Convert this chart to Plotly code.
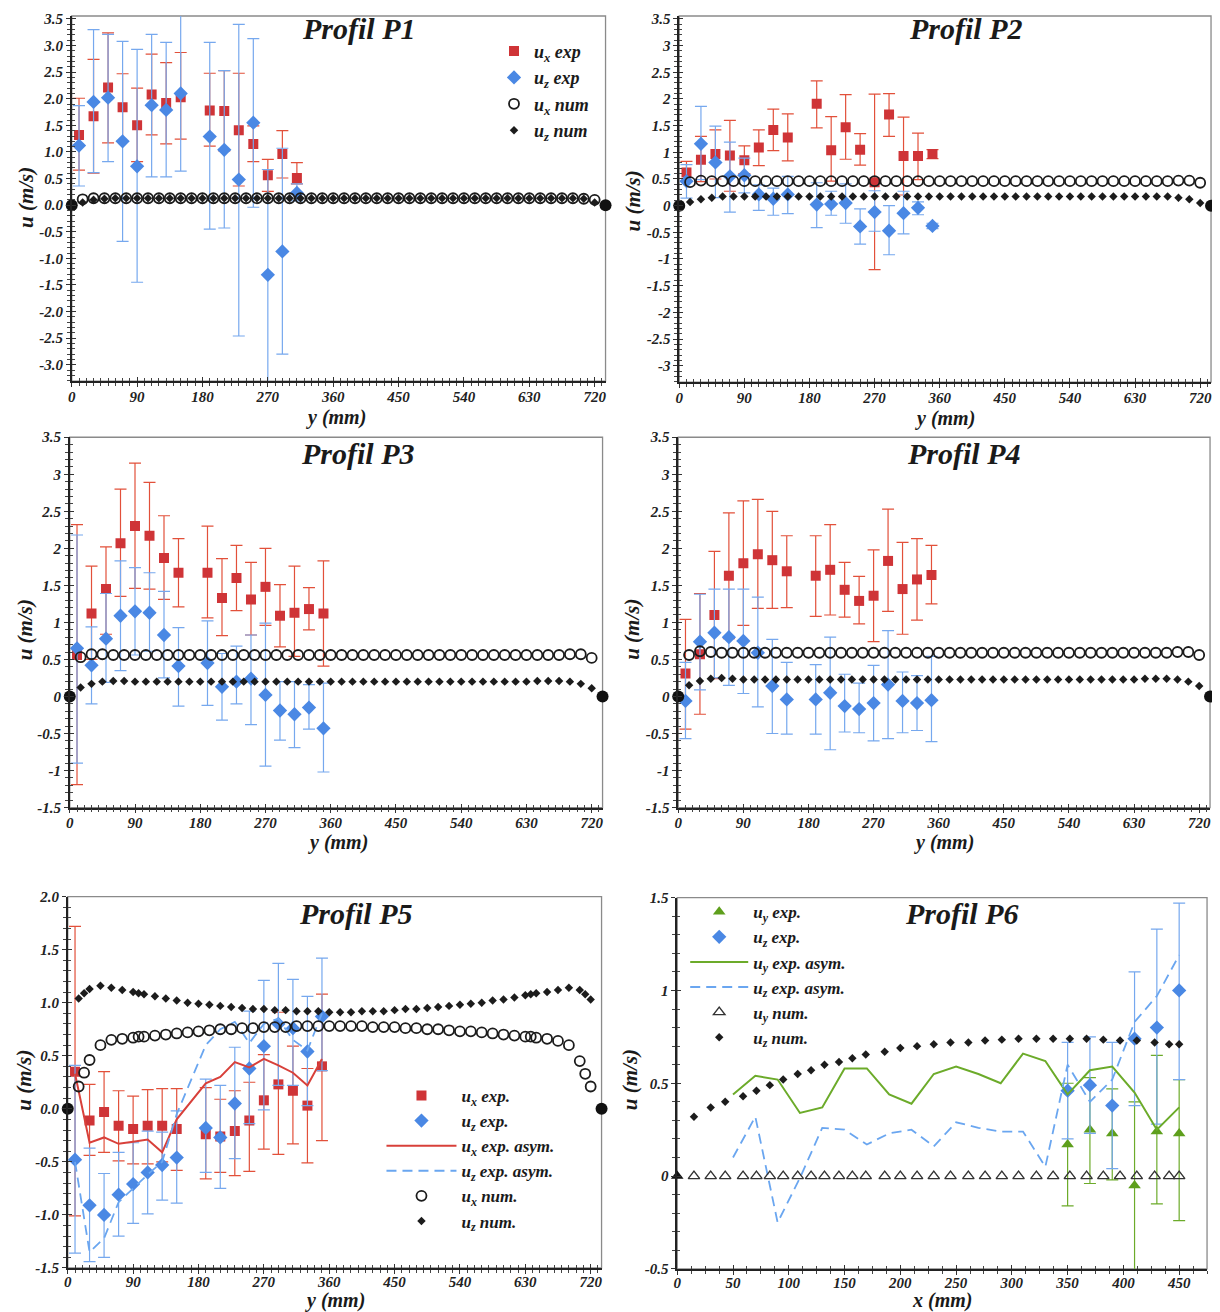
import plotly.graph_objects as go

# Figure size; positions below are given in reference-page pixels and mapped to paper space
W, H = 1212, 1312
FONT = "Liberation Serif"

# ---------------- data ----------------
exp_pos_p1 = [10, 30, 50, 70, 90, 110, 130, 150, 190, 210, 230, 250, 270, 290, 310]
exp_pos = [10, 30, 50, 70, 90, 110, 130, 150, 190, 210, 230, 250, 270, 290, 310, 330, 350]

num_pos = [15, 30, 45, 60, 75, 90, 105, 120, 135, 150, 165, 180,
           195, 210, 225, 240, 255, 270, 285, 300, 315, 330, 345, 360,
           375, 390, 405, 420, 435, 450, 465, 480, 495, 510, 525, 540,
           555, 570, 585, 600, 615, 630, 645, 660, 675, 690, 705, 720]
wall_pos = [0, 735]
wall_u = [0, 0]

# Profil P1
p1_ux = [1.32, 1.67, 2.21, 1.84, 1.50, 2.08, 1.92, 2.03, 1.78, 1.77, 1.41, 1.15, 0.56, 0.96, 0.51]
p1_ux_hi = [2.01, 2.74, 3.24, 2.47, 2.20, 2.84, 2.68, 2.87, 2.48, 2.53, 2.48, 1.49, 0.86, 1.40, 0.80]
p1_ux_lo = [0.66, 0.60, 1.17, 1.20, 0.82, 1.32, 1.15, 1.24, 1.11, 1.02, 0.36, 0.82, 0.26, 0.51, 0.40]
p1_uz = [1.12, 1.94, 2.02, 1.20, 0.73, 1.88, 1.79, 2.10, 1.29, 1.04, 0.48, 1.55, -1.31, -0.87, 0.23]
p1_uz_hi = [1.87, 3.30, 3.21, 3.08, 2.93, 3.21, 3.06, 3.60, 3.06, 2.53, 3.40, 3.13, 0.67, 1.07, 0.40]
p1_uz_lo = [0.36, 0.61, 0.82, -0.68, -1.45, 0.53, 0.53, 0.64, -0.45, -0.43, -2.46, -0.04, -3.40, -2.80, 0.08]
p1_ux_num = [0.11, 0.13, 0.13, 0.13, 0.13, 0.13, 0.13, 0.13, 0.13, 0.13, 0.13, 0.13,
             0.13, 0.13, 0.13, 0.13, 0.13, 0.13, 0.13, 0.13, 0.13, 0.13, 0.13, 0.13,
             0.13, 0.13, 0.13, 0.13, 0.13, 0.13, 0.13, 0.13, 0.13, 0.13, 0.13, 0.13,
             0.13, 0.13, 0.13, 0.13, 0.13, 0.13, 0.13, 0.13, 0.13, 0.13, 0.12, 0.10]
p1_uz_num = [0.05, 0.10, 0.12, 0.13, 0.13, 0.13, 0.13, 0.13, 0.13, 0.13, 0.13, 0.13,
             0.13, 0.13, 0.13, 0.13, 0.13, 0.13, 0.13, 0.13, 0.13, 0.13, 0.13, 0.13,
             0.13, 0.13, 0.13, 0.13, 0.13, 0.13, 0.13, 0.13, 0.13, 0.13, 0.13, 0.13,
             0.13, 0.13, 0.13, 0.13, 0.13, 0.13, 0.13, 0.13, 0.13, 0.13, 0.12, 0.05]

# Profil P2
p2_ux = [0.62, 0.86, 0.97, 0.94, 0.85, 1.09, 1.42, 1.28, 1.91, 1.04, 1.47, 1.05, 0.44, 1.71, 0.93, 0.93, 0.97]
p2_ux_hi = [0.83, 1.30, 1.42, 1.60, 1.12, 1.42, 1.81, 1.72, 2.34, 1.67, 2.08, 1.35, 2.09, 2.10, 1.66, 1.36, 1.05]
p2_ux_lo = [0.46, 0.45, 0.50, 0.27, 0.60, 0.75, 1.03, 0.84, 1.46, 0.46, 0.87, 0.76, -1.20, 1.30, 0.20, 0.49, 0.88]
p2_uz = [0.46, 1.16, 0.81, 0.55, 0.57, 0.21, 0.13, 0.21, 0.02, 0.03, 0.05, -0.39, -0.12, -0.47, -0.14, -0.04, -0.38]
p2_uz_hi = [0.77, 1.86, 1.49, 1.19, 0.89, 0.39, 0.33, 0.55, 0.43, 0.27, 0.41, -0.06, 0.28, 0.00, 0.27, 0.07, -0.33]
p2_uz_lo = [0.14, 0.49, 0.15, -0.12, 0.24, -0.09, -0.18, -0.15, -0.41, -0.18, -0.33, -0.72, -0.48, -0.92, -0.53, -0.17, -0.43]
p2_ux_num = [0.44, 0.47, 0.46, 0.46, 0.46, 0.46, 0.46, 0.46, 0.46, 0.46, 0.46, 0.46,
             0.46, 0.46, 0.46, 0.46, 0.46, 0.46, 0.46, 0.46, 0.46, 0.46, 0.46, 0.46,
             0.46, 0.46, 0.46, 0.46, 0.46, 0.46, 0.46, 0.46, 0.46, 0.46, 0.46, 0.46,
             0.46, 0.46, 0.46, 0.46, 0.46, 0.46, 0.46, 0.46, 0.46, 0.47, 0.47, 0.43]
p2_uz_num = [0.07, 0.12, 0.15, 0.17, 0.17, 0.17, 0.17, 0.17, 0.17, 0.17, 0.17, 0.17,
             0.17, 0.17, 0.17, 0.17, 0.17, 0.17, 0.17, 0.17, 0.17, 0.17, 0.17, 0.17,
             0.17, 0.17, 0.17, 0.17, 0.17, 0.17, 0.17, 0.17, 0.17, 0.17, 0.17, 0.17,
             0.17, 0.17, 0.17, 0.17, 0.17, 0.17, 0.17, 0.17, 0.17, 0.15, 0.12, 0.05]

# Profil P3
p3_ux = [0.56, 1.12, 1.45, 2.07, 2.30, 2.17, 1.87, 1.67, 1.67, 1.33, 1.60, 1.31, 1.48, 1.09, 1.13, 1.18, 1.12]
p3_ux_hi = [2.32, 1.76, 2.02, 2.80, 3.15, 2.89, 2.44, 2.13, 2.30, 1.86, 2.04, 1.81, 2.00, 1.51, 1.76, 1.47, 1.83]
p3_ux_lo = [-1.19, 0.50, 0.84, 1.35, 1.46, 1.45, 1.31, 1.21, 1.06, 0.82, 1.16, 0.83, 0.96, 0.67, 0.54, 0.90, 0.41]
p3_uz = [0.65, 0.42, 0.78, 1.09, 1.15, 1.13, 0.83, 0.41, 0.45, 0.13, 0.20, 0.24, 0.02, -0.19, -0.24, -0.15, -0.43]
p3_uz_hi = [2.18, 0.94, 1.39, 1.83, 1.74, 1.67, 1.42, 0.93, 1.02, 0.58, 0.68, 0.83, 0.99, 0.20, 0.20, 0.16, 0.18]
p3_uz_lo = [-0.90, -0.10, 0.19, 0.35, 0.56, 0.61, 0.25, -0.13, -0.12, -0.32, -0.10, -0.38, -0.94, -0.59, -0.69, -0.44, -1.02]
p3_ux_num = [0.53, 0.57, 0.57, 0.56, 0.56, 0.56, 0.56, 0.56, 0.56, 0.56, 0.56, 0.56,
             0.56, 0.56, 0.56, 0.56, 0.56, 0.56, 0.56, 0.56, 0.56, 0.56, 0.56, 0.56,
             0.56, 0.56, 0.56, 0.56, 0.56, 0.56, 0.56, 0.56, 0.56, 0.56, 0.56, 0.56,
             0.56, 0.56, 0.56, 0.56, 0.56, 0.56, 0.56, 0.56, 0.56, 0.57, 0.57, 0.52]
p3_uz_num = [0.12, 0.17, 0.20, 0.21, 0.21, 0.20, 0.20, 0.20, 0.20, 0.20, 0.20, 0.20,
             0.20, 0.20, 0.20, 0.20, 0.20, 0.20, 0.20, 0.20, 0.20, 0.20, 0.20, 0.20,
             0.20, 0.20, 0.20, 0.20, 0.20, 0.20, 0.20, 0.20, 0.20, 0.20, 0.20, 0.20,
             0.20, 0.20, 0.20, 0.20, 0.20, 0.20, 0.21, 0.21, 0.21, 0.20, 0.17, 0.11]

# Profil P4
p4_ux = [0.31, 0.57, 1.10, 1.63, 1.80, 1.92, 1.84, 1.69, 1.63, 1.71, 1.44, 1.29, 1.36, 1.83, 1.45, 1.58, 1.64]
p4_ux_hi = [1.04, 1.39, 1.96, 2.48, 2.64, 2.66, 2.50, 2.17, 2.17, 2.32, 1.81, 1.62, 1.98, 2.53, 2.08, 2.13, 2.04]
p4_ux_lo = [-0.44, -0.24, 0.24, 0.78, 0.96, 1.19, 1.19, 1.20, 1.08, 1.10, 1.07, 0.98, 0.74, 1.15, 0.84, 1.03, 1.25]
p4_uz = [-0.06, 0.74, 0.86, 0.80, 0.75, 0.59, 0.14, -0.04, -0.04, 0.05, -0.13, -0.17, -0.09, 0.16, -0.06, -0.09, -0.05]
p4_uz_hi = [0.46, 1.38, 1.45, 1.45, 1.45, 1.34, 0.77, 0.46, 0.43, 0.80, 0.30, 0.18, 0.42, 0.89, 0.33, 0.28, 0.54]
p4_uz_lo = [-0.57, 0.09, 0.25, 0.15, 0.04, -0.14, -0.50, -0.51, -0.51, -0.72, -0.48, -0.49, -0.60, -0.57, -0.49, -0.46, -0.61]
p4_ux_num = [0.56, 0.61, 0.60, 0.59, 0.59, 0.59, 0.59, 0.59, 0.59, 0.59, 0.59, 0.59,
             0.59, 0.59, 0.59, 0.59, 0.59, 0.59, 0.59, 0.59, 0.59, 0.59, 0.59, 0.59,
             0.59, 0.59, 0.59, 0.59, 0.59, 0.59, 0.59, 0.59, 0.59, 0.59, 0.59, 0.59,
             0.59, 0.59, 0.59, 0.59, 0.59, 0.59, 0.59, 0.59, 0.59, 0.60, 0.60, 0.56]
p4_uz_num = [0.15, 0.21, 0.24, 0.25, 0.24, 0.23, 0.23, 0.23, 0.23, 0.23, 0.23, 0.23,
             0.23, 0.23, 0.23, 0.23, 0.23, 0.23, 0.23, 0.23, 0.23, 0.23, 0.23, 0.23,
             0.23, 0.23, 0.23, 0.23, 0.23, 0.23, 0.23, 0.23, 0.23, 0.23, 0.23, 0.23,
             0.23, 0.23, 0.23, 0.23, 0.23, 0.23, 0.24, 0.24, 0.24, 0.23, 0.20, 0.14]

# Profil P5
p5_ux = [0.35, -0.11, -0.03, -0.16, -0.19, -0.16, -0.16, -0.19, -0.24, -0.26, -0.21, -0.11, 0.08, 0.23, 0.17, 0.03, 0.40]
p5_ux_hi = [1.72, 0.23, 0.35, 0.17, 0.12, 0.18, 0.19, 0.19, 0.20, 0.09, 0.17, 0.25, 0.51, 0.91, 0.59, 0.38, 1.08]
p5_ux_lo = [-1.01, -0.44, -0.41, -0.49, -0.52, -0.52, -0.50, -0.58, -0.66, -0.60, -0.63, -0.59, -0.38, -0.43, -0.33, -0.51, -0.30]
p5_uz = [-0.48, -0.91, -1.00, -0.81, -0.71, -0.60, -0.53, -0.46, -0.18, -0.27, 0.05, 0.38, 0.59, 0.80, 0.76, 0.54, 0.87]
p5_uz_hi = [0.41, -0.37, -0.61, -0.41, -0.32, -0.21, -0.22, -0.02, 0.28, 0.22, 0.58, 0.92, 1.21, 1.37, 1.22, 1.06, 1.42]
p5_uz_lo = [-1.36, -1.44, -1.40, -1.20, -1.08, -0.99, -0.86, -0.89, -0.60, -0.75, -0.47, -0.14, -0.01, 0.22, 0.22, 0.03, 0.36]
p5_ux_asym = [0.33, -0.32, -0.27, -0.33, -0.31, -0.29, -0.41, -0.10, 0.24, 0.30, 0.44, 0.39, 0.47, 0.41, 0.34, 0.22, 0.47]
p5_uz_asym = [-0.50, -1.35, -1.22, -0.88, -0.75, -0.62, -0.50, -0.05, 0.60, 0.75, 0.82, 0.62, 0.80, 0.85, 0.65, 0.55, 0.90]
p5_num_pos = [15, 22.5, 30, 45, 60, 75, 90, 97.5, 105,
              120, 135, 150, 165, 180, 195, 210, 225, 240, 255,
              270, 285, 300, 315, 330, 345, 360, 375, 390, 405,
              420, 435, 450, 465, 480, 495, 510, 525, 540, 555,
              570, 585, 600, 615,
              630, 637.5, 645, 660, 675, 690, 705, 712.5, 720]
p5_ux_num = [0.21, 0.34, 0.46, 0.60, 0.65, 0.66, 0.67, 0.68, 0.68,
             0.69, 0.70, 0.71, 0.72, 0.73, 0.74, 0.75, 0.75, 0.76, 0.76,
             0.77, 0.77, 0.77, 0.78, 0.78, 0.78, 0.78, 0.78, 0.78, 0.78,
             0.77, 0.77, 0.77, 0.76, 0.76, 0.75, 0.75, 0.74, 0.73, 0.73,
             0.72, 0.71, 0.70, 0.69,
             0.68, 0.68, 0.67, 0.66, 0.64, 0.60, 0.45, 0.33, 0.21]
p5_uz_num = [1.04, 1.09, 1.13, 1.16, 1.14, 1.12, 1.10, 1.09, 1.08,
             1.06, 1.04, 1.02, 1.00, 0.99, 0.98, 0.97, 0.96, 0.95, 0.94,
             0.94, 0.93, 0.93, 0.92, 0.92, 0.92, 0.91, 0.91, 0.91, 0.92,
             0.92, 0.92, 0.93, 0.94, 0.94, 0.95, 0.96, 0.97, 0.98, 0.99,
             1.00, 1.02, 1.03, 1.05,
             1.07, 1.08, 1.09, 1.10, 1.12, 1.14, 1.12, 1.08, 1.03]

# Profil P6
p6_exp_pos = [350, 370, 390, 410, 430, 450]
p6_uy = [0.17, 0.25, 0.23, -0.05, 0.24, 0.23]
p6_uy_hi = [0.50, 0.53, 0.47, 0.40, 0.65, 0.52]
p6_uy_lo = [-0.16, -0.04, -0.02, -0.52, -0.15, -0.24]
p6_uz = [0.46, 0.49, 0.38, 0.74, 0.80, 1.00]
p6_uz_hi = [0.72, 0.75, 0.72, 1.10, 1.33, 1.47]
p6_uz_lo = [0.20, 0.23, 0.04, 0.38, 0.28, 0.52]
p6_asym_pos = [50, 70, 90, 110, 130, 150, 170, 190, 210, 230, 250,
               270, 290, 310, 330, 350, 370, 390, 410, 430, 450]
p6_uy_asym = [0.44, 0.54, 0.52, 0.34, 0.37, 0.58, 0.58, 0.44, 0.39, 0.55, 0.59,
              0.55, 0.50, 0.66, 0.62, 0.44, 0.57, 0.59, 0.45, 0.25, 0.37]
p6_uz_asym = [0.10, 0.32, -0.25, -0.01, 0.26, 0.25, 0.17, 0.23, 0.25, 0.16, 0.29,
              0.26, 0.24, 0.24, 0.05, 0.60, 0.40, 0.52, 0.83, 0.97, 1.19]
p6_num_pos = [15, 30, 43, 59, 71, 83, 95, 108, 120, 132, 145, 157, 169, 186, 200, 215,
              230, 245, 261, 276, 291, 306, 322, 337, 352, 367, 382, 397, 412, 428, 441, 450]
p6_uy_num = [0, 0, 0, 0, 0, 0, 0, 0, 0, 0, 0, 0, 0, 0, 0, 0,
             0, 0, 0, 0, 0, 0, 0, 0, 0, 0, 0, 0, 0, 0, 0, 0]
p6_uz_num = [0.32, 0.37, 0.40, 0.43, 0.46, 0.49, 0.52, 0.55, 0.57, 0.60, 0.615, 0.635, 0.655, 0.67, 0.69, 0.70,
             0.71, 0.72, 0.72, 0.73, 0.735, 0.74, 0.74, 0.74, 0.74, 0.74, 0.735, 0.73, 0.73, 0.72, 0.71, 0.71]
p6_wall_pos = [0]
p6_wall_u = [0]

# tick labels
ytick_p1 = [3.5, 3.0, 2.5, 2.0, 1.5, 1.0, 0.5, 0.0, -0.5, -1.0, -1.5, -2.0, -2.5, -3.0]
ytext_p1 = ["3.5", "3.0", "2.5", "2.0", "1.5", "1.0", "0.5", "0.0", "-0.5", "-1.0", "-1.5", "-2.0", "-2.5", "-3.0"]
ytext_p2 = ["3.5", "3", "2.5", "2", "1.5", "1", "0.5", "0", "-0.5", "-1", "-1.5", "-2", "-2.5", "-3"]
ytick_p34 = [3.5, 3.0, 2.5, 2.0, 1.5, 1.0, 0.5, 0.0, -0.5, -1.0, -1.5]
ytext_p34 = ["3.5", "3", "2.5", "2", "1.5", "1", "0.5", "0", "-0.5", "-1", "-1.5"]
ytick_p5 = [2.0, 1.5, 1.0, 0.5, 0.0, -0.5, -1.0, -1.5]
ytext_p5 = ["2.0", "1.5", "1.0", "0.5", "0.0", "-0.5", "-1.0", "-1.5"]
ytick_p6 = [1.5, 1.0, 0.5, 0.0, -0.5]
ytext_p6 = ["1.5", "1", "0.5", "0", "-0.5"]
xtick_y = [0, 90, 180, 270, 360, 450, 540, 630, 720]
xtext_y = ["0", "90", "180", "270", "360", "450", "540", "630", "720"]
xtick_x = [0, 50, 100, 150, 200, 250, 300, 350, 400, 450]
xtext_x = ["0", "50", "100", "150", "200", "250", "300", "350", "400", "450"]

# ---------------- style ----------------
RED = "#cf3437"
RED_ERR = "#e2503a"
BLUE = "#4a88e4"
BLUE_ERR = "#76a8ee"
GREEN = "#5e9f1c"
GREEN_LINE = "#6cab2a"
INK = "#1c1c1c"


def bfont(size, color=INK):
    return dict(family=FONT, size=size, color=color, style="italic", weight="bold")


def sfx(i):
    return "" if i == 1 else str(i)


# page-pixel -> figure-pixel mapping (page offset of the figure and its vertical scale)
def fig_x(px):
    return px - 8


def fig_y(py):
    return (py - 15.1) / 0.987


def PX(px):
    return fig_x(px) / W


def PY(py, clamp=False):
    v = 1 - fig_y(py) / H
    if clamp:
        v = min(1.0, max(0.0, v))
    return v


panels = [
    dict(px=(68, 604), py=(12, 380), xr=[0, 735], yr=[-3.31, 3.556], yt=ytick_p1, ytt=ytext_p1,
         xt=xtick_y, xtt=xtext_y, xminor=10, yminor=0.1, title="Profil P1", tx=356, ty=28, xlab="y (mm)", xl=(333, 416), yl=(22, 196), so=-3),
    dict(px=(678, 1212), py=(13, 381), xr=[0, 735], yr=[-3.31, 3.556], yt=ytick_p1, ytt=ytext_p2,
         xt=xtick_y, xtt=xtext_y, xminor=10, yminor=0.1, title="Profil P2", tx=966, ty=28, xlab="y (mm)", xl=(945, 417), yl=(632, 200), so=-3),
    dict(px=(66, 601), py=(436, 806), xr=[0, 735], yr=[-1.5, 3.5], yt=ytick_p34, ytt=ytext_p34,
         xt=xtick_y, xtt=xtext_y, xminor=10, yminor=0.1, title="Profil P3", tx=355, ty=452, xlab="y (mm)", xl=(335, 841), yl=(21, 628), so=-3),
    dict(px=(677, 1211), py=(436, 806), xr=[0, 735], yr=[-1.5, 3.5], yt=ytick_p34, ytt=ytext_p34,
         xt=xtick_y, xtt=xtext_y, xminor=10, yminor=0.1, title="Profil P4", tx=964, ty=452, xlab="y (mm)", xl=(944, 841), yl=(631, 628), so=-3),
    dict(px=(64, 600), py=(895, 1266), xr=[0, 735], yr=[-1.5, 2.0], yt=ytick_p5, ytt=ytext_p5,
         xt=xtick_y, xtt=xtext_y, xminor=10, yminor=0.1, title="Profil P5", tx=353, ty=912, xlab="y (mm)", xl=(332, 1299), yl=(20, 1078), so=-5),
    dict(px=(676, 1208), py=(896, 1267), xr=[0, 475], yr=[-0.5, 1.5], yt=ytick_p6, ytt=ytext_p6,
         xt=xtick_x, xtt=xtext_x, xminor=12.5, yminor=0.1, title="Profil P6", tx=962, ty=912, xlab="x (mm)", xl=(942, 1299), yl=(628, 1078), so=-5),
]

fig = go.Figure()
layout = dict(width=W, height=H, margin=dict(l=0, r=0, t=0, b=0),
              paper_bgcolor="white", plot_bgcolor="white", showlegend=True)
annotations = []
shapes = []

for i, p in enumerate(panels, start=1):
    s = sfx(i)
    j = i + 6
    xd = [PX(p["px"][0]), PX(p["px"][1])]
    yd = [PY(p["py"][1], True), PY(p["py"][0], True)]
    tickfont = bfont(15, "#222")
    layout[f"xaxis{s}"] = dict(
        domain=xd, range=p["xr"], anchor=f"y{s}", showgrid=False, zeroline=False,
        showline=True, linecolor="#222", linewidth=1.5, ticks="outside", ticklen=4,
        tickwidth=1, tickcolor="#333", tickmode="array", tickvals=p["xt"], ticktext=p["xtt"],
        tickfont=tickfont, fixedrange=True, ticklabeloverflow="allow", ticklabelstandoff=p["so"],
        minor=dict(ticks="outside", ticklen=3, tickwidth=1, tickcolor="#444",
                   tickmode="linear", tick0=0, dtick=p["xminor"]))
    layout[f"yaxis{s}"] = dict(
        domain=yd, range=p["yr"], anchor=f"x{s}", showgrid=False, zeroline=False,
        showline=True, linecolor="#222", linewidth=1.5, ticks="outside", ticklen=4,
        tickwidth=1, tickcolor="#333", tickmode="array", tickvals=p["yt"], ticktext=p["ytt"],
        tickfont=tickfont, fixedrange=True, ticklabeloverflow="allow",
        minor=dict(ticks="outside", ticklen=3, tickwidth=1, tickcolor="#444",
                   tickmode="linear", tick0=0, dtick=p["yminor"]))
    # overlay axes giving the inner half of the cross-shaped ticks
    layout[f"xaxis{j}"] = dict(
        domain=xd, range=p["xr"], overlaying=f"x{s}", anchor=f"y{s}", side="bottom",
        showgrid=False, zeroline=False, showline=False, ticks="inside", ticklen=4,
        tickwidth=1, tickcolor="#333", tickmode="array", tickvals=p["xt"],
        showticklabels=False, fixedrange=True,
        minor=dict(ticks="inside", ticklen=3, tickwidth=1, tickcolor="#444",
                   tickmode="linear", tick0=0, dtick=p["xminor"]))
    layout[f"yaxis{j}"] = dict(
        domain=yd, range=p["yr"], overlaying=f"y{s}", anchor=f"x{s}", side="left",
        showgrid=False, zeroline=False, showline=False, ticks="inside", ticklen=4,
        tickwidth=1, tickcolor="#333", tickmode="array", tickvals=p["yt"],
        showticklabels=False, fixedrange=True,
        minor=dict(ticks="inside", ticklen=3, tickwidth=1, tickcolor="#444",
                   tickmode="linear", tick0=0, dtick=p["yminor"]))
    fig.add_trace(go.Scatter(x=[], y=[], xaxis=f"x{j}", yaxis=f"y{j}", showlegend=False,
                             hoverinfo="skip"))
    # gray frame (top/right)
    shapes.append(dict(type="rect", xref=f"x{s} domain", yref=f"y{s} domain",
                       x0=0, x1=1, y0=0, y1=1, line=dict(color="#8a8a8a", width=1.3),
                       layer="below"))
    # title
    annotations.append(dict(text=p["title"], x=PX(p["tx"]), y=PY(p["ty"]),
                            xref="paper", yref="paper", showarrow=False,
                            font=bfont(30, "#1a1a1a"), xanchor="center", yanchor="middle"))
    # axis titles
    annotations.append(dict(text="u (m/s)", x=PX(p["yl"][0]), y=PY(p["yl"][1]),
                            xref="paper", yref="paper", showarrow=False, textangle=-90,
                            font=bfont(21, "#1a1a1a"), xanchor="center", yanchor="middle"))
    annotations.append(dict(text=p["xlab"], x=PX(p["xl"][0]), y=PY(p["xl"][1]),
                            xref="paper", yref="paper", showarrow=False,
                            font=bfont(20, "#1a1a1a"), xanchor="center", yanchor="middle"))


def err(vals, hi, lo):
    return ([h - v for v, h in zip(vals, hi)], [v - l for v, l in zip(vals, lo)])


def exp_trace(i, xs, vals, hi, lo, name, symbol, color, ecolor, size, legend, show):
    plus, minus = err(vals, hi, lo)
    s = sfx(i)
    return go.Scatter(x=xs, y=vals, mode="markers", name=name, xaxis=f"x{s}", yaxis=f"y{s}",
                      marker=dict(symbol=symbol, size=size, color=color, line=dict(width=0)),
                      error_y=dict(type="data", symmetric=False, array=plus, arrayminus=minus,
                                   color=ecolor, thickness=1.2, width=6),
                      legend=legend, showlegend=show)


def num_traces(i, xs, ux, uz, name_x, name_z, legend, show):
    s = sfx(i)
    t1 = go.Scatter(x=xs, y=ux, mode="markers", name=name_x, xaxis=f"x{s}", yaxis=f"y{s}",
                    marker=dict(symbol="circle-open", size=10, color=INK, line=dict(width=1.8, color=INK)),
                    legend=legend, showlegend=show)
    t2 = go.Scatter(x=xs, y=uz, mode="markers", name=name_z, xaxis=f"x{s}", yaxis=f"y{s}",
                    marker=dict(symbol="diamond", size=6.5, color=INK),
                    legend=legend, showlegend=show)
    return [t1, t2]


def wall_trace(i, xs, us, symbol="circle", size=12):
    s = sfx(i)
    return go.Scatter(x=xs, y=us, mode="markers", xaxis=f"x{s}", yaxis=f"y{s}", showlegend=False,
                      marker=dict(symbol=symbol, size=size, color="#111"), cliponaxis=False)


sets = [
    (1, exp_pos_p1, p1_ux, p1_ux_hi, p1_ux_lo, p1_uz, p1_uz_hi, p1_uz_lo, p1_ux_num, p1_uz_num),
    (2, exp_pos, p2_ux, p2_ux_hi, p2_ux_lo, p2_uz, p2_uz_hi, p2_uz_lo, p2_ux_num, p2_uz_num),
    (3, exp_pos, p3_ux, p3_ux_hi, p3_ux_lo, p3_uz, p3_uz_hi, p3_uz_lo, p3_ux_num, p3_uz_num),
    (4, exp_pos, p4_ux, p4_ux_hi, p4_ux_lo, p4_uz, p4_uz_hi, p4_uz_lo, p4_ux_num, p4_uz_num),
]
for (i, xs, ux, uxh, uxl, uz, uzh, uzl, uxn, uzn) in sets:
    show = (i == 1)
    fig.add_trace(exp_trace(i, xs, ux, uxh, uxl, "u<sub>x</sub> exp", "square", RED, RED_ERR, 10, "legend", show))
    fig.add_trace(exp_trace(i, xs, uz, uzh, uzl, "u<sub>z</sub> exp", "diamond", BLUE, BLUE_ERR, 11, "legend", show))
    for t in num_traces(i, num_pos, uxn, uzn, "u<sub>x</sub> num", "u<sub>z</sub> num", "legend", show):
        fig.add_trace(t)
    fig.add_trace(wall_trace(i, wall_pos, wall_u))

# P5
fig.add_trace(exp_trace(5, exp_pos, p5_ux, p5_ux_hi, p5_ux_lo, "u<sub>x</sub> exp.", "square", RED, RED_ERR, 10, "legend2", True))
fig.add_trace(exp_trace(5, exp_pos, p5_uz, p5_uz_hi, p5_uz_lo, "u<sub>z</sub> exp.", "diamond", BLUE, BLUE_ERR, 11, "legend2", True))
fig.add_trace(go.Scatter(x=exp_pos, y=p5_ux_asym, mode="lines", name="u<sub>x</sub> exp. asym.",
                         xaxis="x5", yaxis="y5", line=dict(color="#d8403a", width=2),
                         legend="legend2"))
fig.add_trace(go.Scatter(x=exp_pos, y=p5_uz_asym, mode="lines", name="u<sub>z</sub> exp. asym.",
                         xaxis="x5", yaxis="y5", line=dict(color="#6aa6f0", width=1.8, dash="10px,6px"),
                         legend="legend2"))
for t in num_traces(5, p5_num_pos, p5_ux_num, p5_uz_num, "u<sub>x</sub> num.", "u<sub>z</sub> num.", "legend2", True):
    fig.add_trace(t)
fig.add_trace(wall_trace(5, wall_pos, wall_u))

# P6
fig.add_trace(exp_trace(6, p6_exp_pos, p6_uy, p6_uy_hi, p6_uy_lo, "u<sub>y</sub> exp.", "triangle-up", GREEN, GREEN_LINE, 11, "legend3", True))
fig.add_trace(exp_trace(6, p6_exp_pos, p6_uz, p6_uz_hi, p6_uz_lo, "u<sub>z</sub> exp.", "diamond", BLUE, BLUE_ERR, 11, "legend3", True))
fig.add_trace(go.Scatter(x=p6_asym_pos, y=p6_uy_asym, mode="lines", name="u<sub>y</sub> exp. asym.",
                         xaxis="x6", yaxis="y6", line=dict(color=GREEN_LINE, width=2),
                         legend="legend3"))
fig.add_trace(go.Scatter(x=p6_asym_pos, y=p6_uz_asym, mode="lines", name="u<sub>z</sub> exp. asym.",
                         xaxis="x6", yaxis="y6", line=dict(color="#6aa6f0", width=1.8, dash="10px,6px"),
                         legend="legend3"))
fig.add_trace(go.Scatter(x=p6_num_pos, y=p6_uy_num, mode="markers", name="u<sub>y</sub> num.",
                         xaxis="x6", yaxis="y6", legend="legend3",
                         marker=dict(symbol="triangle-up-open", size=10, color="#333", line=dict(width=1.4, color="#333"))))
fig.add_trace(go.Scatter(x=p6_num_pos, y=p6_uz_num, mode="markers", name="u<sub>z</sub> num.",
                         xaxis="x6", yaxis="y6", legend="legend3",
                         marker=dict(symbol="diamond", size=6.5, color=INK)))
fig.add_trace(wall_trace(6, p6_wall_pos, p6_wall_u, symbol="triangle-up", size=11))

layout["legend"] = dict(x=484 / W, y=1 - 17 / H, xanchor="left", yanchor="top",
                        bgcolor="rgba(0,0,0,0)", font=bfont(18, "#1a1a1a"))
layout["legend2"] = dict(x=371 / W, y=1 - 1075 / H, xanchor="left", yanchor="top",
                         bgcolor="rgba(0,0,0,0)", font=bfont(17, "#1a1a1a"), itemwidth=70)
layout["legend3"] = dict(x=676 / W, y=1 - 889 / H, xanchor="left", yanchor="top",
                         bgcolor="rgba(0,0,0,0)", font=bfont(17, "#1a1a1a"), itemwidth=58)
layout["annotations"] = annotations
layout["shapes"] = shapes
fig.update_layout(**layout)

fig.write_html("out.html")
